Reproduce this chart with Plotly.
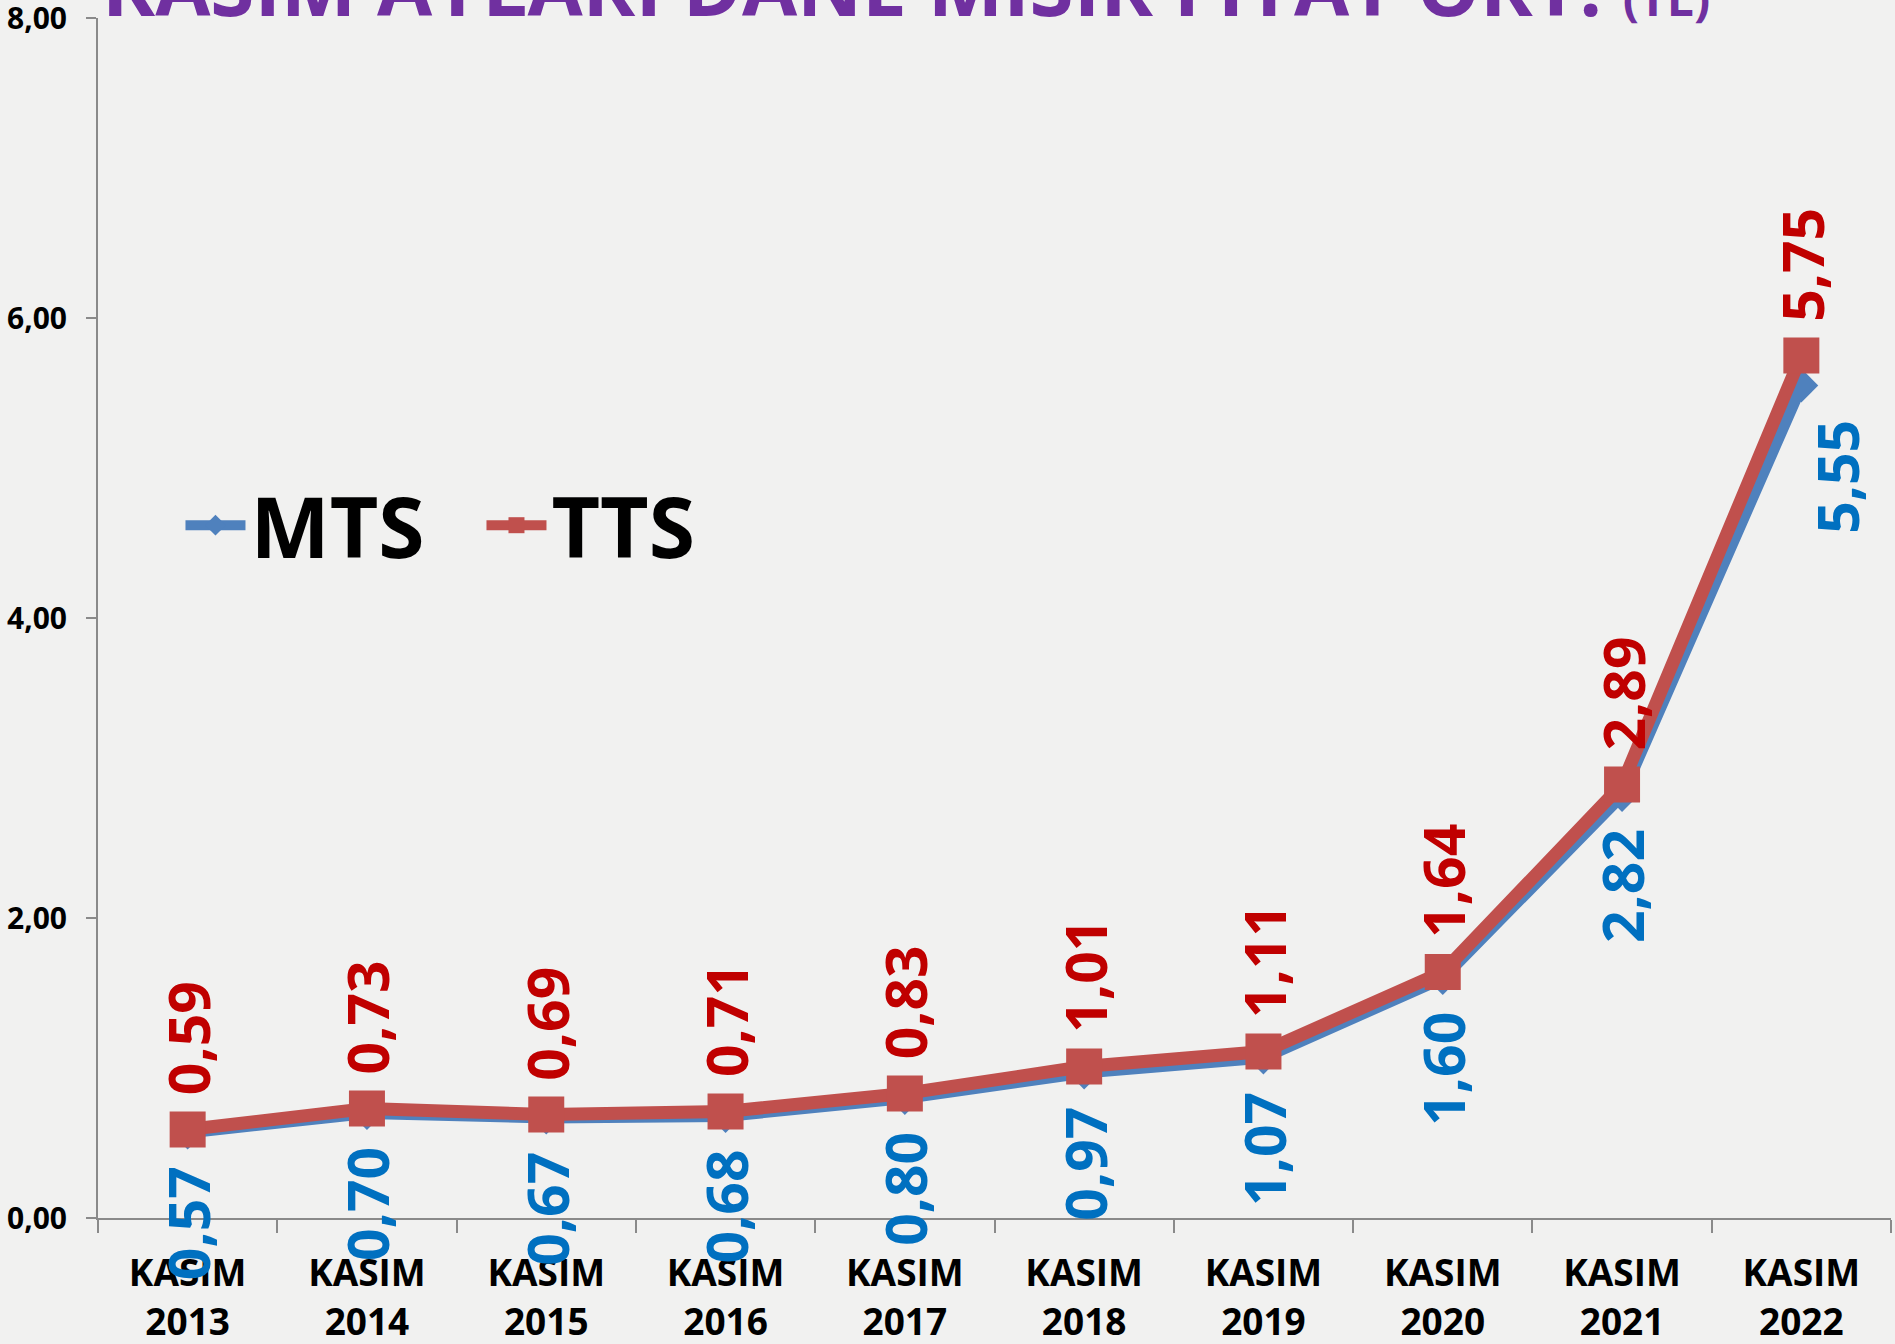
import plotly.graph_objects as go

# ---- data ----
categories = ["KASIM<br>2013", "KASIM<br>2014", "KASIM<br>2015", "KASIM<br>2016", "KASIM<br>2017",
              "KASIM<br>2018", "KASIM<br>2019", "KASIM<br>2020", "KASIM<br>2021", "KASIM<br>2022"]
mts = [0.57, 0.70, 0.67, 0.68, 0.80, 0.97, 1.07, 1.60, 2.82, 5.55]
tts = [0.59, 0.73, 0.69, 0.71, 0.83, 1.01, 1.11, 1.64, 2.89, 5.75]
y_tick_vals = [0, 2, 4, 6, 8]
y_tick_text = ["0,00", "2,00", "4,00", "6,00", "8,00"]
title_main = "KASIM AYLARI DANE MISIR FİYAT ORT."
title_unit = "(TL)"


def fmt(v):
    return f"{v:.2f}".replace(".", ",")


FONT = "Open Sans"
BG = "#F1F1F0"
AXIS_GREY = "#8A8A8A"

fig = go.Figure()
fig.add_trace(go.Scatter(
    x=categories, y=mts, name="MTS", mode="lines+markers",
    line=dict(color="#4F81BD", width=12),
    marker=dict(symbol="diamond", size=26, color="#4F81BD"),
))
fig.add_trace(go.Scatter(
    x=categories, y=tts, name="TTS", mode="lines+markers",
    line=dict(color="#C0504D", width=13),
    marker=dict(symbol="square", size=36, color="#C0504D"),
))

label_font = dict(family=FONT, size=57, weight="bold")
n = len(categories)
for i, (c, v) in enumerate(zip(categories, tts)):
    fig.add_annotation(x=c, y=v, text=fmt(v), textangle=-90, showarrow=False,
                       xanchor="center", yanchor="bottom", yshift=32,
                       font=dict(color="#C00000", **label_font))
for i, (c, v) in enumerate(zip(categories, mts)):
    fig.add_annotation(x=c, y=v, text=fmt(v), textangle=-90, showarrow=False,
                       xanchor="center", yanchor="top", yshift=-32,
                       xshift=35 if i == n - 1 else 0,
                       font=dict(color="#0070C0", **label_font))

# title (partly cut off at the top, as in the reference)
fig.add_annotation(
    xref="paper", yref="paper", x=0.001, y=0.981, xanchor="left", yanchor="bottom",
    showarrow=False,
    text=title_main + " <span style='font-size:48px'>" + title_unit + "</span>",
    font=dict(family=FONT, size=80, color="#7030A0", weight="bold"),
)

fig.update_layout(
    width=1895, height=1344,
    margin=dict(l=98, r=4, t=18, b=126),
    paper_bgcolor=BG, plot_bgcolor=BG,
    separators=",.",
    showlegend=True,
    legend=dict(
        orientation="h", x=0.046, y=0.577, xanchor="left", yanchor="middle",
        font=dict(family=FONT, size=84, color="black", weight="bold"),
        bgcolor="rgba(0,0,0,0)", entrywidth=226, itemwidth=60,
    ),
    xaxis=dict(
        type="category", range=[-0.5, 9.5], automargin=False,
        showline=True, linecolor=AXIS_GREY, linewidth=2,
        ticks="outside", tickson="boundaries", ticklen=13, tickwidth=2, tickcolor=AXIS_GREY,
        tickfont=dict(family=FONT, size=37, color="black", weight="bold"),
        ticklabelstandoff=22,
        showgrid=False, zeroline=False,
    ),
    yaxis=dict(
        range=[0, 8], tickvals=y_tick_vals, ticktext=y_tick_text, automargin=False,
        showline=True, linecolor=AXIS_GREY, linewidth=2,
        ticks="outside", ticklen=10, tickwidth=2, tickcolor=AXIS_GREY,
        tickfont=dict(family=FONT, size=30, color="black", weight="bold"),
        ticklabelstandoff=13, ticklabeloverflow="allow",
        showgrid=False, zeroline=False,
    ),
)

fig.write_html("out.html", config={"displayModeBar": False},
               post_script="document.body.style.margin='0';")
